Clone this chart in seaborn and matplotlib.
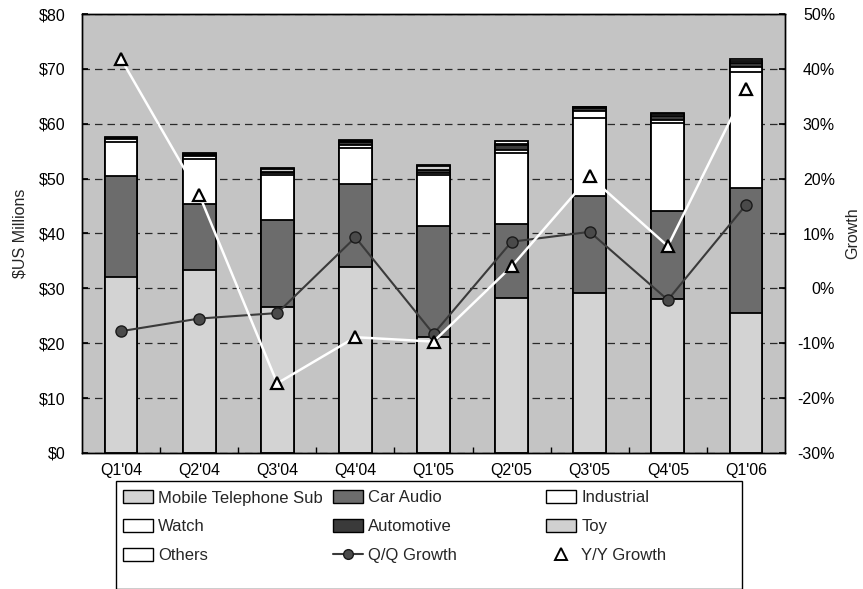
import numpy as np
import pandas as pd
import matplotlib
matplotlib.use("Agg")
import matplotlib.pyplot as plt
import seaborn as sns
from matplotlib.patches import Patch, Rectangle
from matplotlib.lines import Line2D
from matplotlib.ticker import FixedLocator, FuncFormatter

# ---------------- data ----------------
quarters = ["Q1'04", "Q2'04", "Q3'04", "Q4'04", "Q1'05", "Q2'05", "Q3'05", "Q4'05", "Q1'06"]
mobile_sub = [32.1, 33.4, 26.6, 33.9, 21.2, 28.2, 29.2, 28.1, 25.5]
car_audio = [18.4, 12.0, 15.8, 15.1, 20.1, 13.6, 17.6, 16.0, 22.8]
industrial = [6.2, 8.2, 8.3, 6.6, 9.3, 12.9, 14.3, 16.0, 21.2]
watch = [0.5, 0.6, 0.4, 0.5, 0.4, 0.5, 1.2, 0.5, 0.9]
automotive = [0.1, 0.1, 0.1, 0.6, 0.5, 0.9, 0.6, 0.9, 0.7]
toy = [0.1, 0.1, 0.6, 0.1, 0.8, 0.2, 0.1, 0.2, 0.3]
others = [0.2, 0.2, 0.2, 0.2, 0.2, 0.6, 0.1, 0.2, 0.4]
qq_growth = [-7.8, -5.5, -4.5, 9.3, -8.3, 8.5, 10.3, -2.1, 15.2]
yy_growth = [41.8, 17.1, -17.3, -8.9, -9.7, 4.0, 20.4, 7.7, 36.4]

series_names = ["Mobile Telephone Sub", "Car Audio", "Industrial", "Watch",
                "Automotive", "Toy", "Others"]
series_vals = [mobile_sub, car_audio, industrial, watch, automotive, toy, others]
series_colors = ["#d3d3d3", "#6c6c6c", "#ffffff", "#ffffff", "#3a3a3a", "#d0d0d0", "#ffffff"]

left_ticks = [0, 10, 20, 30, 40, 50, 60, 70, 80]
right_ticks = [-30, -20, -10, 0, 10, 20, 30, 40, 50]

# ---------------- figure ----------------
sns.set_theme(style="white")
plt.rcParams["font.family"] = ["Liberation Sans", "DejaVu Sans"]

W, H = 863, 589
fig = plt.figure(figsize=(W / 100, H / 100), dpi=100)
fig.patch.set_facecolor("white")
ax = fig.add_axes([82 / W, 1 - 453 / H, 703 / W, 439 / H])
ax.set_facecolor("#c4c4c4")

df = pd.DataFrame({"quarter": quarters})
cum = np.zeros(len(quarters))
cums = []
for v in series_vals:
    cum = cum + np.array(v)
    cums.append(cum.copy())

# draw from the top layer down so lower layers overpaint
for name, c, color in reversed(list(zip(series_names, cums, series_colors))):
    d = df.copy()
    d["value"] = c
    sns.barplot(data=d, x="quarter", y="value", order=quarters, color=color,
                saturation=1, edgecolor="black", linewidth=1.3, width=0.42,
                errorbar=None, ax=ax, zorder=2)

ax.set_xlim(-0.5, len(quarters) - 0.5)
ax.set_ylim(0, 80)
ax.yaxis.set_major_locator(FixedLocator(left_ticks))
ax.yaxis.set_major_formatter(FuncFormatter(lambda v, p: "\\$%d" % v))
ax.yaxis.grid(True, linestyle=(0, (6, 4)), color="#2a2a2a", linewidth=0.9)
ax.xaxis.grid(False)
ax.set_axisbelow(True)
ax.set_xlabel("")
ax.set_ylabel("\\$US Millions", fontsize=11.5, labelpad=8)
ax.xaxis.set_minor_locator(FixedLocator(np.arange(0.5, len(quarters) - 1, 1.0)))
ax.tick_params(axis="x", which="major", length=0, pad=7, labelsize=11.5, colors="black")
ax.tick_params(axis="x", which="minor", length=4, direction="in", color="black", bottom=True)
ax.tick_params(axis="y", length=4, direction="in", pad=12, labelsize=11.5, colors="black", left=True)
for s in ax.spines.values():
    s.set_color("black")
    s.set_linewidth(1.0)

# ---------------- growth lines ----------------
ax2 = ax.twinx()
xpos = np.arange(len(quarters))
sns.lineplot(x=xpos, y=qq_growth, ax=ax2, color="#3a3a3a", linewidth=1.5,
             marker="o", markersize=8, markerfacecolor="#4a4a4a",
             markeredgecolor="#1a1a1a", markeredgewidth=1.0, zorder=5)
sns.lineplot(x=xpos, y=yy_growth, ax=ax2, color="white", linewidth=1.8,
             marker="^", markersize=9, markerfacecolor="white",
             markeredgecolor="black", markeredgewidth=1.6, zorder=6)
ax2.set_ylim(-30, 50)
ax2.yaxis.set_major_locator(FixedLocator(right_ticks))
ax2.yaxis.set_major_formatter(FuncFormatter(lambda v, p: "%d%%" % v))
ax2.tick_params(axis="y", length=4, direction="in", pad=36, labelsize=11.5, colors="black", right=True)
for lab in ax2.get_yticklabels():
    lab.set_horizontalalignment("right")
ax2.set_ylabel("Growth", fontsize=11.5)
ax2.yaxis.set_label_coords(1.085, 0.5)
ax2.grid(False)
for s in ax2.spines.values():
    s.set_color("black")
    s.set_linewidth(1.0)

# ---------------- legend ----------------
def patch(color):
    return Patch(facecolor=color, edgecolor="black", linewidth=1.0)

h = {n: patch(c) for n, c in zip(series_names, series_colors)}
h["Q/Q Growth"] = Line2D([], [], color="#3a3a3a", linewidth=1.5, marker="o", markersize=7,
                         markerfacecolor="#4a4a4a", markeredgecolor="#1a1a1a")
h["Y/Y Growth"] = Line2D([], [], color="white", linewidth=0, marker="^", markersize=9,
                         markerfacecolor="white", markeredgecolor="black", markeredgewidth=1.4)
columns = [["Mobile Telephone Sub", "Watch", "Others"],
           ["Car Audio", "Automotive", "Q/Q Growth"],
           ["Industrial", "Toy", "Y/Y Growth"]]
col_x = [120, 330, 543]
top_y = 487
for cx, names in zip(col_x, columns):
    fig.legend([h[n] for n in names], names, loc="upper left",
               bbox_to_anchor=(cx / W, 1 - top_y / H), frameon=False,
               fontsize=12, handlelength=1.8, handleheight=0.8, handletextpad=0.3,
               labelspacing=0.82, borderpad=0.2, borderaxespad=0)
fig.patches.append(Rectangle((116 / W, 1 - 589 / H), (742 - 116) / W, (589 - 481) / H,
                             transform=fig.transFigure, fill=False, edgecolor="black",
                             linewidth=1.0))

fig.savefig("out.png", dpi=100, facecolor="white")
